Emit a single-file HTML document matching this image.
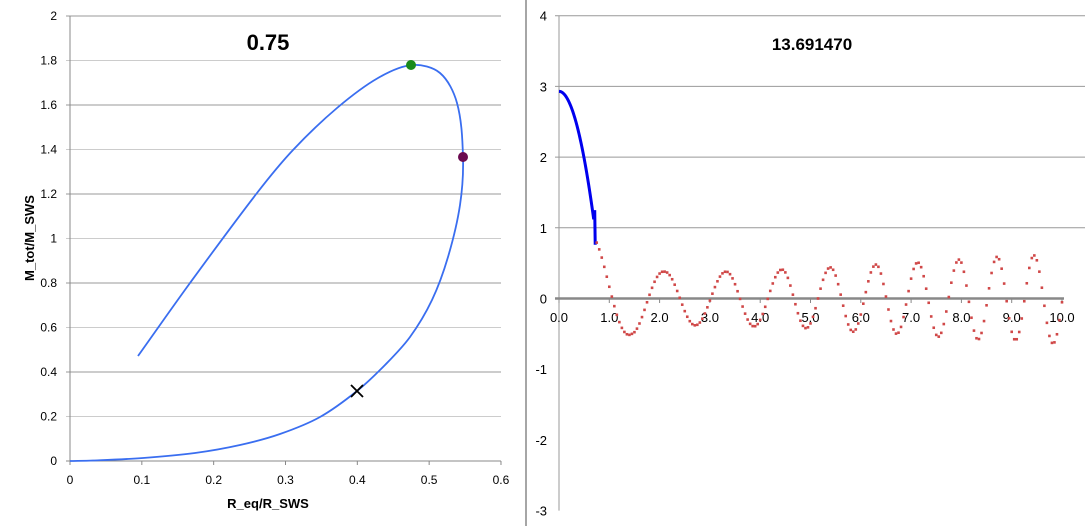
<!DOCTYPE html>
<html><head><style>
body{margin:0;background:#fff;}
svg{display:block;font-family:"Liberation Sans",sans-serif;}
</style></head><body>
<svg id="s" width="1090" height="526" xmlns="http://www.w3.org/2000/svg">
<rect width="1090" height="526" fill="#fff"/>
<line x1="526" y1="0" x2="526" y2="526" stroke="#888" stroke-width="1.5"/>
<g id="lg" stroke="#999" stroke-width="1"></g>
<g id="lt" font-size="12" fill="#000"></g>
<text x="268" y="50" font-size="22" font-weight="bold" text-anchor="middle">0.75</text>
<text x="268" y="508" font-size="13" font-weight="bold" text-anchor="middle">R_eq/R_SWS</text>
<text transform="translate(34,238) rotate(-90)" font-size="13" font-weight="bold" text-anchor="middle">M_tot/M_SWS</text>
<path id="lc" fill="none" stroke="#3a6ef0" stroke-width="1.8"/>
<circle cx="411" cy="65" r="5" fill="#1a8a1a"/>
<circle cx="463" cy="157" r="5" fill="#6a0a50"/>
<path d="M351 385 L363 397 M363 385 L351 397" stroke="#000" stroke-width="1.8"/>
<g id="rg"></g>
<g id="rt" font-size="13" fill="#000"></g>
<text x="812" y="50" font-size="17" font-weight="bold" text-anchor="middle">13.691470</text>
<path id="bl" fill="none" stroke="#0000ee" stroke-width="3"/>
<g id="dots" fill="#d04848"></g>
</svg>
<script>
const NS="http://www.w3.org/2000/svg";
function el(p,t,a,txt){const e=document.createElementNS(NS,t);for(const k in a)e.setAttribute(k,a[k]);if(txt!==undefined)e.textContent=txt;p.appendChild(e);return e;}
const lg=document.getElementById('lg'),lt=document.getElementById('lt');
for(let i=0;i<=10;i++){const y=461-i*44.5;
 el(lg,'line',{x1:66,x2:501,y1:y,y2:y,stroke:i==0?'#888':(i%2?'#ccc':'#999')});
 el(lt,'text',{x:57,y:y+4,'text-anchor':'end'},String(+(i*0.2).toFixed(1)));}
el(lg,'line',{x1:70,x2:70,y1:16,y2:461,stroke:'#888'});
for(let i=0;i<=6;i++){const x=70+i*71.83;el(lg,'line',{x1:x,x2:x,y1:461,y2:465,stroke:'#888'});el(lt,'text',{x:x,y:484,'text-anchor':'middle'},i==0?'0':(i*0.1).toFixed(1));}
const P=[[138,356],[190,283],[257,193],[293,150],[337,108],[378,78],[412,65],[440,73],[457,103],[463,157],[460,205],[448,257],[432,300],[410,337],[385,365],[357,391],[320,417],[280,434],[240,445],[195,453],[143,458],[93,460.5],[70,461]];
const dist=(a,b)=>Math.hypot(a[0]-b[0],a[1]-b[1]);
let d='M'+P[0];
function tan(i){const a=P[Math.max(0,i-1)],c=P[Math.min(P.length-1,i+1)];const s=dist(a,P[i])+dist(P[i],c);return [(c[0]-a[0])/s,(c[1]-a[1])/s];}
for(let i=0;i<P.length-1;i++){const p1=P[i],p2=P[i+1],L=dist(p1,p2)/3,t1=tan(i),t2=tan(i+1);
 d+=` C${p1[0]+t1[0]*L},${p1[1]+t1[1]*L} ${p2[0]-t2[0]*L},${p2[1]-t2[1]*L} ${p2[0]},${p2[1]}`;}
document.getElementById('lc').setAttribute('d',d);
const rg=document.getElementById('rg'),rt=document.getElementById('rt');
const X=v=>559+v*50.3,Y=v=>298.5-v*70.7;
for(let i=-3;i<=4;i++){const y=Y(i);
 if(i>0)el(rg,'line',{x1:555,x2:1085,y1:y,y2:y,stroke:'#999'});
 el(rt,'text',{x:547,y:y+5,'text-anchor':'end'},String(i));}
el(rg,'line',{x1:559,x2:559,y1:Y(4),y2:Y(-3),stroke:'#999'});
el(rg,'line',{x1:555,x2:1064,y1:298.5,y2:298.5,stroke:'#888','stroke-width':2.5});
for(let i=0;i<=10;i++){el(rg,'line',{x1:X(i),x2:X(i),y1:298,y2:303,stroke:'#888'});
 el(rt,'text',{x:X(i),y:322,'text-anchor':'middle'},i.toFixed(1));}
let b='';for(let x=0;x<=0.7;x+=0.01){b+=(b?'L':'M')+X(x)+','+Y(2.93-3.8*x*x);}
b+='L'+X(0.71)+','+Y(1.25)+'L'+X(0.715)+','+Y(1.0)+'L'+X(0.72)+','+Y(0.76);
document.getElementById('bl').setAttribute('d',b);
const K=[[0.75,0.62],[1.06,1],[1.45,1.5],[2.1,2.5],[3.32,4.5],[4.43,6.5],[5.39,8.5],[6.3,10.5],[7.13,12.5],[7.95,14.5],[8.71,16.5],[9.44,18.5],[10.2,20.5]];
const A=[[0.75,0.85],[1.45,0.5],[2.1,0.38],[3.3,0.38],[4.43,0.41],[4.9,0.42],[5.39,0.44],[5.85,0.47],[6.3,0.48],[6.7,0.5],[7.13,0.51],[7.5,0.54],[7.95,0.55],[8.3,0.58],[8.71,0.59],[9.1,0.59],[9.44,0.61],[9.85,0.64],[10.2,0.65]];
function interp(T,x){for(let i=0;i<T.length-1;i++)if(x<=T[i+1][0]){const t=(x-T[i][0])/(T[i+1][0]-T[i][0]);return T[i][1]+t*(T[i+1][1]-T[i][1]);}return T[T.length-1][1];}
const dg=document.getElementById('dots');
for(let x=0.75;x<=10.001;x+=0.05){const v=interp(A,x)*Math.sin(interp(K,x)*Math.PI);
 el(dg,'rect',{x:X(x)-1.3,y:Y(v)-1.3,width:2.6,height:2.6});}
</script>
</body></html>
